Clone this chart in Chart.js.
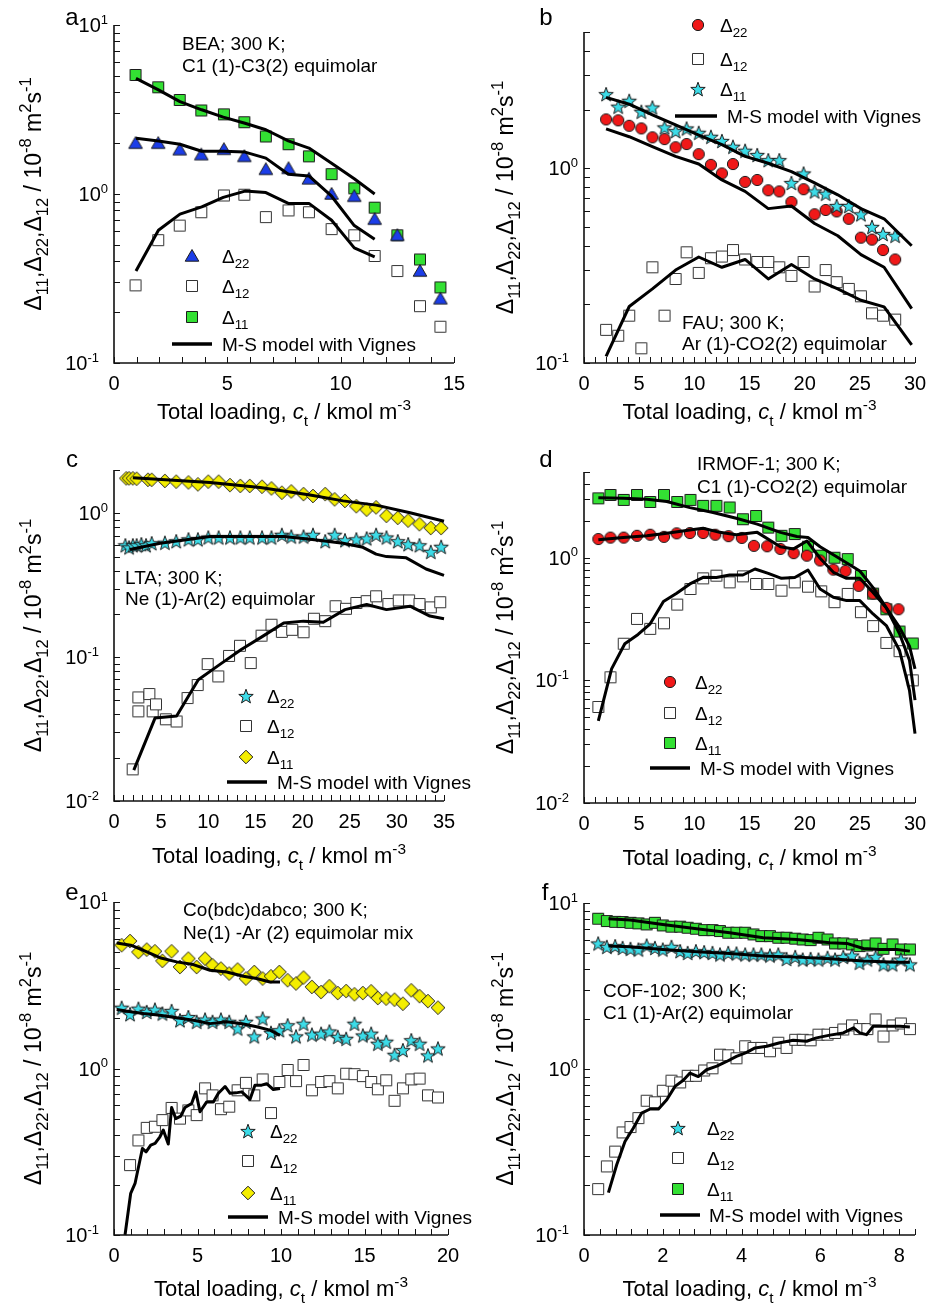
<!DOCTYPE html>
<html>
<head>
<meta charset="utf-8">
<script src="https://cdn.jsdelivr.net/npm/chart.js@4.4.1/dist/chart.umd.min.js"></script>
<style>
  html, body { margin: 0; padding: 0; background: #fff; overflow: hidden; }
  #page { position: relative; width: 928px; height: 1303px; overflow: hidden; }
  canvas { position: absolute; }
</style>
</head>
<body>
<div id="page"></div>
<script>
// ---------- a: BEA, C1-C3 ----------
const aX = [0.95, 1.95, 2.9, 3.85, 4.85, 5.75, 6.7, 7.7, 8.6, 9.6, 10.6, 11.5, 12.5, 13.5, 14.4];
const aD11 = [5.06, 4.28, 3.60, 3.12, 2.96, 2.66, 2.19, 1.97, 1.67, 1.31, 1.08, 0.83, 0.57, 0.41, 0.28];
const aD22 = [2.0, 2.0, 1.83, 1.71, 1.84, 1.67, 1.40, 1.42, 1.23, 1.0, 0.97, 0.71, 0.57, 0.35, 0.24];
const aD12 = [0.288, 0.533, 0.65, 0.78, 0.98, 0.99, 0.73, 0.80, 0.78, 0.62, 0.57, 0.43, 0.35, 0.217, 0.164];
const aLineX = [0.97, 1.96, 2.91, 3.87, 4.82, 5.78, 6.7, 7.69, 8.6, 9.6, 10.6, 11.5];
const aM11 = [4.83, 4.13, 3.52, 3.15, 2.85, 2.62, 2.40, 2.06, 1.87, 1.52, 1.23, 1.0];
const aM22 = [2.14, 2.06, 1.97, 1.79, 1.79, 1.77, 1.63, 1.31, 1.28, 0.97, 0.65, 0.54];
const aM12 = [0.35, 0.61, 0.76, 0.84, 0.955, 1.04, 1.02, 0.88, 0.88, 0.70, 0.48, 0.425];
const aXTicks = [0, 5, 10, 15];
const aYTicks = [0.1, 1, 10];

// ---------- b: FAU, Ar-CO2 ----------
const bX = [2.0, 3.1, 4.1, 5.2, 6.2, 7.3, 8.3, 9.3, 10.4, 11.5, 12.5, 13.5, 14.6, 15.7, 16.7, 17.7, 18.8, 19.9, 20.9, 21.9, 22.9, 24.0, 25.1, 26.1, 27.1, 28.2];
const bD22 = [1.78, 1.76, 1.65, 1.60, 1.44, 1.41, 1.28, 1.33, 1.18, 1.04, 0.94, 1.05, 0.85, 0.87, 0.77, 0.76, 0.67, 0.78, 0.58, 0.61, 0.60, 0.55, 0.44, 0.43, 0.38, 0.34];
const bD11 = [2.40, 2.07, 2.22, 1.95, 2.05, 1.62, 1.55, 1.60, 1.52, 1.45, 1.38, 1.29, 1.23, 1.17, 1.10, 1.10, 0.84, 0.94, 0.76, 0.74, 0.64, 0.64, 0.58, 0.50, 0.46, 0.45];
const bD12 = [0.148, 0.138, 0.175, 0.119, 0.31, 0.175, 0.27, 0.37, 0.29, 0.345, 0.352, 0.38, 0.34, 0.33, 0.33, 0.31, 0.28, 0.33, 0.247, 0.30, 0.26, 0.24, 0.22, 0.18, 0.175, 0.167];
const bLineX = [2.0, 4.1, 6.2, 8.3, 10.4, 12.5, 14.6, 16.7, 18.8, 20.9, 23.0, 25.1, 27.2, 29.7];
const bM11 = [2.31, 2.13, 1.88, 1.67, 1.48, 1.32, 1.15, 1.06, 0.96, 0.84, 0.73, 0.62, 0.55, 0.40];
const bM22 = [1.59, 1.45, 1.29, 1.15, 1.05, 0.87, 0.76, 0.62, 0.64, 0.52, 0.45, 0.36, 0.31, 0.19];
const bM12 = [0.108, 0.195, 0.24, 0.30, 0.35, 0.31, 0.34, 0.27, 0.32, 0.27, 0.24, 0.21, 0.194, 0.124];
const bXTicks = [0, 5, 10, 15, 20, 25, 30];
const bYTicks = [0.1, 1];

// ---------- c: LTA, Ne-Ar ----------
const cX11 = [1.3, 1.6, 2.0, 2.4, 3.6, 4.0, 5.4, 6.6, 7.9, 8.9, 10.0, 11.1, 12.3, 13.4, 14.4, 15.7, 16.7, 17.8, 18.8, 20.1, 21.1, 22.4, 23.4, 24.5, 25.7, 26.8, 27.8, 28.9, 30.1, 31.2, 32.4, 33.6, 34.7];
const cD11 = [1.75, 1.75, 1.75, 1.74, 1.71, 1.71, 1.68, 1.66, 1.64, 1.59, 1.66, 1.66, 1.57, 1.55, 1.55, 1.53, 1.49, 1.39, 1.42, 1.36, 1.32, 1.36, 1.25, 1.22, 1.12, 1.06, 1.10, 0.96, 0.93, 0.89, 0.84, 0.79, 0.79];
const cX22 = [1.2, 1.6, 2.0, 2.4, 2.9, 3.4, 4.0, 5.4, 6.6, 7.9, 8.9, 10.0, 11.1, 12.3, 13.4, 14.4, 15.7, 16.7, 17.8, 18.8, 20.1, 21.1, 22.4, 23.4, 24.5, 25.7, 26.8, 27.8, 28.9, 30.1, 31.2, 32.4, 33.6, 34.7];
const cD22 = [0.60, 0.58, 0.60, 0.60, 0.61, 0.60, 0.62, 0.625, 0.64, 0.66, 0.66, 0.68, 0.68, 0.68, 0.68, 0.68, 0.68, 0.68, 0.71, 0.69, 0.69, 0.71, 0.64, 0.71, 0.65, 0.66, 0.67, 0.71, 0.68, 0.64, 0.61, 0.60, 0.54, 0.586];
const cX12 = [1.98, 2.58, 2.58, 3.75, 4.1, 4.45, 5.5, 6.64, 7.8, 8.87, 9.93, 11.06, 12.2, 13.36, 14.5, 15.65, 16.7, 17.8, 18.9, 20.1, 21.2, 22.4, 23.5, 24.6, 25.7, 26.8, 27.8, 29.1, 30.2, 31.3, 32.4, 33.6, 34.6];
const cD12 = [0.0166, 0.0525, 0.042, 0.0554, 0.042, 0.047, 0.037, 0.0357, 0.052, 0.064, 0.0895, 0.0735, 0.102, 0.120, 0.091, 0.141, 0.168, 0.150, 0.155, 0.149, 0.185, 0.178, 0.226, 0.217, 0.238, 0.245, 0.265, 0.234, 0.248, 0.248, 0.234, 0.222, 0.241];
const cLine11X = [2.0, 10.2, 15.5, 20.8, 24.3, 27.8, 31.4, 35.0];
const cM11 = [1.77, 1.64, 1.51, 1.34, 1.22, 1.14, 1.01, 0.88];
const cLine22X = [1.7, 4.9, 10.2, 15.5, 18.0, 20.8, 24.3, 26.4, 27.8, 28.9, 31.0, 33.1, 35.0];
const cM22 = [0.56, 0.62, 0.69, 0.69, 0.69, 0.66, 0.62, 0.58, 0.52, 0.50, 0.49, 0.41, 0.37];
const cLine12X = [2.1, 4.35, 6.64, 8.94, 11.2, 13.5, 15.8, 18.0, 20.1, 22.2, 24.5, 26.8, 28.9, 31.4, 33.5, 35.0];
const cM12 = [0.0164, 0.0377, 0.039, 0.0697, 0.0887, 0.113, 0.140, 0.173, 0.178, 0.175, 0.214, 0.232, 0.214, 0.226, 0.193, 0.185];
const cXTicks = [0, 5, 10, 15, 20, 25, 30, 35];
const cYTicks = [0.01, 0.1, 1];

// ---------- d: IRMOF-1, C1-CO2 ----------
const dX = [1.3, 2.4, 3.6, 4.8, 6.0, 7.25, 8.45, 9.65, 10.8, 12.0, 13.2, 14.4, 15.6, 16.7, 17.9, 19.1, 20.3, 21.5, 22.7, 23.9, 25.1, 26.2, 27.4, 28.6, 29.8];
const dD11 = [3.05, 3.25, 2.96, 3.25, 2.85, 3.25, 2.85, 2.96, 2.65, 2.65, 2.57, 2.06, 2.19, 1.76, 1.51, 1.56, 1.23, 1.04, 1.0, 0.975, 0.71, 0.51, 0.38, 0.25, 0.20];
const dD12 = [0.0607, 0.106, 0.199, 0.317, 0.263, 0.292, 0.415, 0.556, 0.679, 0.714, 0.63, 0.705, 0.611, 0.611, 0.539, 0.63, 0.581, 0.532, 0.434, 0.507, 0.36, 0.277, 0.202, 0.173, 0.10];
const dX22 = [1.3, 2.4, 3.6, 4.8, 6.0, 7.25, 8.4, 9.6, 10.8, 11.9, 13.1, 14.3, 15.4, 16.6, 17.8, 19.0, 20.2, 21.4, 22.6, 23.7, 24.9, 26.2, 27.4, 28.5];
const dD22 = [1.42, 1.46, 1.46, 1.51, 1.54, 1.48, 1.58, 1.59, 1.59, 1.54, 1.50, 1.45, 1.25, 1.24, 1.18, 1.09, 1.04, 0.95, 0.80, 0.78, 0.59, 0.51, 0.39, 0.38];
const dLine11X = [1.3, 3.56, 5.7, 7.5, 9.6, 11.7, 13.8, 15.7, 17.8, 19.3, 20.3, 21.4, 22.9, 25.0, 26.2, 27.4, 28.6, 29.5, 30.0];
const dM11 = [3.09, 3.06, 3.0, 2.87, 2.56, 2.34, 2.10, 1.88, 1.61, 1.49, 1.46, 1.23, 1.02, 0.78, 0.57, 0.39, 0.27, 0.19, 0.124];
const dLine22X = [1.3, 3.56, 5.7, 7.5, 9.6, 10.8, 12.3, 13.8, 15.7, 17.8, 19.0, 20.2, 21.4, 22.6, 23.8, 25.0, 26.2, 27.4, 28.6, 29.5, 30.0];
const dM22 = [1.40, 1.46, 1.51, 1.58, 1.68, 1.74, 1.61, 1.54, 1.61, 1.23, 1.18, 1.37, 0.99, 0.76, 0.68, 0.68, 0.52, 0.39, 0.24, 0.146, 0.069];
const dLine12X = [1.3, 2.5, 3.7, 4.9, 6.0, 7.2, 8.4, 9.6, 10.8, 12.0, 13.2, 14.4, 15.5, 16.7, 17.9, 19.1, 20.3, 21.4, 22.6, 23.8, 25.0, 26.2, 27.4, 28.6, 29.5, 30.0];
const dM12 = [0.0467, 0.124, 0.199, 0.237, 0.289, 0.439, 0.513, 0.611, 0.692, 0.69, 0.723, 0.723, 0.809, 0.746, 0.679, 0.69, 0.794, 0.556, 0.476, 0.447, 0.447, 0.348, 0.28, 0.175, 0.083, 0.0368];
const dXTicks = [0, 5, 10, 15, 20, 25, 30];
const dYTicks = [0.01, 0.1, 1];

// ---------- e: Co(bdc)dabco, Ne-Ar ----------
const eX = [0.46, 0.96, 1.46, 1.96, 2.45, 2.9, 3.45, 3.95, 4.45, 4.95, 5.45, 5.9, 6.4, 6.9, 7.4, 7.9, 8.4, 8.9, 9.4, 9.9, 10.4, 10.9, 11.35, 11.85, 12.4, 12.9, 13.4, 13.9, 14.4, 14.9, 15.4, 15.8, 16.3, 16.8, 17.3, 17.8, 18.3, 18.8, 19.4];
const eD11 = [5.5, 5.83, 5.0, 5.18, 5.06, 4.43, 5.06, 4.07, 4.57, 4.07, 4.57, 4.17, 3.98, 3.72, 3.93, 3.47, 3.80, 3.47, 3.58, 3.80, 3.39, 3.24, 3.52, 3.09, 2.88, 3.12, 2.84, 2.92, 2.79, 2.84, 2.91, 2.65, 2.63, 2.59, 2.45, 2.95, 2.72, 2.54, 2.32];
const eD22 = [2.32, 2.12, 2.29, 2.19, 2.26, 2.14, 2.22, 1.95, 2.04, 1.91, 1.97, 1.91, 1.97, 1.91, 1.74, 1.91, 1.56, 2.0, 1.64, 1.70, 1.82, 1.56, 1.86, 1.60, 1.62, 1.67, 1.55, 1.51, 1.86, 1.58, 1.62, 1.41, 1.45, 1.21, 1.29, 1.48, 1.41, 1.20, 1.32];
const eX12 = [0.96, 1.46, 1.96, 2.45, 2.9, 3.45, 3.95, 4.45, 4.95, 5.45, 5.9, 6.4, 6.9, 7.4, 7.9, 8.4, 8.9, 9.4, 9.9, 10.4, 10.9, 11.35, 11.85, 12.4, 12.9, 13.4, 13.9, 14.4, 14.9, 15.4, 15.8, 16.3, 16.8, 17.3, 17.8, 18.3, 18.8, 19.4];
const eD12 = [0.263, 0.37, 0.44, 0.447, 0.49, 0.58, 0.50, 0.56, 0.525, 0.76, 0.69, 0.57, 0.59, 0.74, 0.82, 0.69, 0.86, 0.54, 0.83, 0.98, 0.84, 1.05, 0.74, 0.83, 0.84, 0.76, 0.93, 0.925, 0.90, 0.83, 0.75, 0.85, 0.64, 0.76, 0.86, 0.87, 0.69, 0.67];
const eLineX = [0.16, 1.0, 1.76, 2.75, 3.75, 4.75, 5.75, 6.75, 7.75, 8.54, 9.34, 9.94];
const eM11 = [5.68, 5.5, 5.13, 4.63, 4.37, 4.21, 3.89, 3.80, 3.58, 3.47, 3.31, 3.31];
const eM22 = [2.26, 2.19, 2.14, 2.09, 2.02, 1.95, 1.86, 1.91, 1.85, 1.78, 1.70, 1.58];
const eLine12X = [0.66, 1.0, 1.26, 1.7, 1.92, 2.2, 2.46, 2.75, 2.95, 3.25, 3.45, 3.7, 4.0, 4.25, 4.65, 4.9, 5.15, 5.55, 5.95, 6.25, 6.65, 6.95, 7.3, 7.65, 8.14, 8.44, 8.84, 9.14, 9.54, 9.94];
const eM12 = [0.10, 0.178, 0.204, 0.331, 0.316, 0.347, 0.355, 0.389, 0.427, 0.352, 0.583, 0.50, 0.518, 0.583, 0.617, 0.724, 0.55, 0.63, 0.63, 0.71, 0.78, 0.71, 0.714, 0.724, 0.652, 0.794, 0.794, 0.81, 0.748, 0.758];
const eXTicks = [0, 5, 10, 15, 20];
const eYTicks = [0.1, 1, 10];

// ---------- f: COF-102, C1-Ar ----------
const fX = [0.36, 0.58, 0.79, 0.98, 1.18, 1.38, 1.59, 1.8, 2.0, 2.22, 2.44, 2.63, 2.84, 3.05, 3.26, 3.45, 3.66, 3.87, 4.09, 4.3, 4.5, 4.72, 4.93, 5.14, 5.36, 5.55, 5.75, 5.95, 6.18, 6.37, 6.58, 6.8, 6.99, 7.19, 7.4, 7.6, 7.83, 8.04, 8.27];
const fD11 = [8.04, 7.79, 7.7, 7.68, 7.6, 7.54, 7.43, 7.6, 7.33, 7.2, 7.2, 7.1, 7.0, 6.87, 6.87, 6.78, 6.62, 6.62, 6.62, 6.47, 6.32, 6.32, 6.18, 6.18, 6.1, 6.03, 5.98, 6.18, 6.03, 5.71, 5.71, 5.63, 5.5, 5.55, 5.71, 5.3, 5.63, 5.25, 5.25];
const fD22 = [5.71, 5.45, 5.5, 5.37, 5.3, 5.25, 5.55, 5.37, 5.25, 5.45, 5.13, 5.01, 5.13, 5.06, 5.01, 4.9, 5.01, 4.97, 4.9, 4.9, 4.9, 4.83, 4.9, 4.61, 4.74, 4.57, 4.61, 4.57, 4.68, 4.57, 4.74, 4.83, 4.37, 4.57, 4.74, 4.27, 4.27, 4.57, 4.27];
const fD12 = [0.189, 0.259, 0.318, 0.415, 0.447, 0.506, 0.644, 0.63, 0.74, 0.851, 0.83, 0.91, 0.91, 0.98, 1.01, 1.22, 1.21, 1.16, 1.37, 1.34, 1.34, 1.28, 1.44, 1.34, 1.50, 1.50, 1.49, 1.61, 1.61, 1.65, 1.73, 1.83, 1.74, 1.74, 1.99, 1.57, 1.83, 1.88, 1.74];
const fLine11X = [0.62, 1.17, 2.0, 2.86, 3.7, 4.55, 5.4, 5.8, 6.24, 6.67, 7.09, 7.5, 7.94, 8.27];
const fM11 = [8.04, 7.9, 7.43, 7.0, 6.62, 6.18, 6.03, 5.9, 5.76, 5.71, 5.32, 5.25, 5.25, 5.13];
const fLine22X = [0.62, 1.17, 2.0, 2.86, 3.7, 4.55, 5.4, 6.24, 7.09, 7.94, 8.27];
const fM22 = [5.5, 5.45, 5.25, 5.08, 4.97, 4.79, 4.72, 4.61, 4.47, 4.4, 4.4];
const fLine12X = [0.62, 0.83, 1.04, 1.25, 1.46, 1.68, 1.89, 2.1, 2.31, 2.52, 2.69, 2.9, 3.11, 3.37, 3.62, 3.87, 4.13, 4.34, 4.64, 4.97, 5.31, 5.65, 5.9, 6.24, 6.58, 6.84, 7.0, 7.17, 7.34, 7.68, 8.02, 8.27];
const fM12 = [0.18, 0.265, 0.366, 0.44, 0.542, 0.574, 0.574, 0.653, 0.786, 0.855, 0.946, 0.90, 0.99, 1.04, 1.11, 1.19, 1.26, 1.34, 1.37, 1.44, 1.49, 1.47, 1.54, 1.60, 1.65, 1.77, 1.65, 1.61, 1.81, 1.81, 1.81, 1.79];
const fXTicks = [0, 2, 4, 6, 8];
const fYTicks = [0.1, 1, 10];

const FONT = "'Liberation Sans', Arial, Helvetica, sans-serif";
Chart.defaults.font.family = FONT;
Chart.defaults.color = '#000';

// marker images, used both for the points and the legends
function markerCanvas(kind, fill, stroke) {
    const c = document.createElement('canvas');
    c.width = 18; c.height = 18;
    const g = c.getContext('2d');
    g.translate(9, 9);
    g.fillStyle = fill;
    g.strokeStyle = stroke;
    g.lineWidth = 1;
    g.beginPath();
    if (kind === 'square') {
        g.rect(-5.5, -5.5, 11, 11);
    } else if (kind === 'circle') {
        g.arc(0, 0, 5.6, 0, Math.PI * 2);
    } else if (kind === 'triangle') {
        g.moveTo(0, -6.5); g.lineTo(6.8, 5.2); g.lineTo(-6.8, 5.2); g.closePath();
    } else if (kind === 'diamond') {
        g.moveTo(0, -6.8); g.lineTo(6.8, 0); g.lineTo(0, 6.8); g.lineTo(-6.8, 0); g.closePath();
    } else if (kind === 'star') {
        for (let k = 0; k < 10; k++) {
            const r = k % 2 ? 3.1 : 7.6;
            const a = -Math.PI / 2 + k * Math.PI / 5;
            g.lineTo(r * Math.cos(a), r * Math.sin(a) + 0.8);
        }
        g.closePath();
    }
    g.fill();
    g.stroke();
    return c;
}

const MARK = {
    green: markerCanvas('square', '#33e033', '#1c1c1c'),
    open: markerCanvas('square', '#ffffff', '#333333'),
    tri: markerCanvas('triangle', '#1b3de8', '#1c1c1c'),
    red: markerCanvas('circle', '#f01818', '#1c1c1c'),
    star: markerCanvas('star', '#3cdce8', '#1c1c1c'),
    dia: markerCanvas('diamond', '#f4ee00', '#1c1c1c')
};

function pts(xs, ys, mark) {
    return {
        data: xs.map((x, i) => ({ x: x, y: ys[i] })),
        showLine: false,
        pointStyle: MARK[mark],
        pointRadius: 6,
        clip: 10
    };
}

function line(xs, ys) {
    return {
        data: xs.map((x, i) => ({ x: x, y: ys[i] })),
        showLine: true,
        borderColor: '#000',
        borderWidth: 3,
        borderJoinStyle: 'round',
        pointRadius: 0,
        tension: 0,
        clip: 4
    };
}

// text with sub / superscripts: parts = [[text, mode]], mode '', 'sub', 'sup', 'i', 'isub'
function drawRich(ctx, parts, x, y, size, align, rot, small) {
    const k = small || 0.7;
    ctx.save();
    ctx.translate(x, y);
    if (rot) ctx.rotate(rot);
    const fontFor = m => {
        const isSmall = m === 'sub' || m === 'sup' || m === 'isub';
        const italic = m === 'i' || m === 'isub';
        return (italic ? 'italic ' : '') + (isSmall ? size * k : size) + 'px ' + FONT;
    };
    let w = 0;
    parts.forEach(([t, m]) => { ctx.font = fontFor(m); w += ctx.measureText(t).width; });
    let cx = align === 'center' ? -w / 2 : align === 'right' ? -w : 0;
    ctx.textAlign = 'left';
    ctx.textBaseline = 'alphabetic';
    ctx.fillStyle = '#000';
    parts.forEach(([t, m]) => {
        ctx.font = fontFor(m);
        const dy = (m === 'sub' || m === 'isub') ? size * 0.3 : m === 'sup' ? -size * 0.42 : 0;
        ctx.fillText(t, cx, dy);
        cx += ctx.measureText(t).width;
    });
    ctx.restore();
}

const Y_TITLE = [['\u0394'], ['11', 'sub'], [',\u0394'], ['22', 'sub'], [',\u0394'], ['12', 'sub'], [' / 10'], ['-8', 'sup'], [' m'], ['2', 'sup'], ['s'], ['-1', 'sup']];
const X_TITLE = [['Total loading, '], ['c', 'i'], ['t', 'sub'], [' / kmol m'], ['-3', 'sup']];

// axes lines, inward ticks, decade labels, titles, legend and notes
function decor(p) {
    return {
        id: 'decor',
        afterDraw(chart) {
            const ctx = chart.ctx;
            const { left, right, top, bottom } = chart.chartArea;
            const xs = chart.scales.x, ys = chart.scales.y;
            ctx.save();
            ctx.strokeStyle = '#111';
            ctx.lineWidth = 1;
            ctx.beginPath();
            xs.ticks.forEach(t => {
                const px = Math.round(xs.getPixelForValue(t.value)) + 0.5;
                ctx.moveTo(px, bottom); ctx.lineTo(px, bottom - 6);
            });
            ys.ticks.forEach(t => {
                const py = Math.round(ys.getPixelForValue(t.value)) + 0.5;
                ctx.moveTo(left, py); ctx.lineTo(left + 6, py);
            });
            ctx.stroke();
            ctx.lineWidth = 1.6;
            ctx.beginPath();
            ctx.moveTo(left, top); ctx.lineTo(left, bottom); ctx.lineTo(right, bottom);
            ctx.stroke();

            // decade labels 10^n on the y axis
            p.yMajor.forEach(v => {
                const py = ys.getPixelForValue(v);
                const ex = Math.round(Math.log10(v));
                drawRich(ctx, [['10'], [String(ex), 'sup']], left - (ex < 0 ? 15 : 6), py + 7, 20, 'right', 0, 0.65);
            });

            ctx.translate(-p.cx, -p.cy);
            // panel letter
            ctx.fillStyle = '#000';
            ctx.font = '24px ' + FONT;
            ctx.textAlign = 'center';
            ctx.textBaseline = 'middle';
            ctx.fillText(p.letter, p.letterPos[0], p.letterPos[1]);
            // axis titles
            const [L, T, R, B] = p.area;
            drawRich(ctx, Y_TITLE, p.yTitleX + 8, (T + B) / 2, 23, 'center', -Math.PI / 2, 0.72);
            drawRich(ctx, X_TITLE, (L + R) / 2, B + p.xTitleDy + 8, 22, 'center');
            // legend
            const lg = p.legend;
            lg.rows.forEach(([k, sub, y]) => {
                ctx.drawImage(MARK[k], lg.mx - 9, y - 9);
                drawRich(ctx, [['\u0394'], [sub, 'sub']], lg.tx, y + 6.5, 19, 'left');
            });
            const [x1, x2, ly, ltx] = lg.line;
            ctx.strokeStyle = '#000';
            ctx.lineWidth = 3.5;
            ctx.beginPath(); ctx.moveTo(x1, ly); ctx.lineTo(x2, ly); ctx.stroke();
            drawRich(ctx, [['M-S model with Vignes']], ltx, ly + 6.5, 19, 'left');
            // material note
            p.note.text.forEach((t, i) => drawRich(ctx, [[t]], p.note.x, p.note.y[i] + 6.5, 19, 'left'));
            ctx.restore();
        }
    };
}

const PANELS = [
    {
        letter: 'a', letterPos: [72, 18], cx: 0, cy: 0, w: 490, h: 435, area: [114, 25, 454, 363], yTitleX: 33, xTitleDy: 48,
        xMax: 15, xStep: 1, xMajor: aXTicks, yMin: 0.1, yMax: 10, yMajor: aYTicks,
        sets: [line(aLineX, aM11), line(aLineX, aM22), line(aLineX, aM12), pts(aX, aD22, 'tri'), pts(aX, aD12, 'open'), pts(aX, aD11, 'green')],
        legend: { mx: 192, tx: 222, rows: [['tri', '22', 256], ['open', '12', 286], ['green', '11', 317]], line: [172, 212, 344, 222] },
        note: { x: 182, y: [43, 65], text: ['BEA; 300 K;', 'C1 (1)-C3(2) equimolar'] }
    },
    {
        letter: 'b', letterPos: [546, 18], cx: 490, cy: 0, w: 460, h: 435, area: [584, 32, 915, 363], yTitleX: 505, xTitleDy: 48,
        xMax: 30, xStep: 1, xMajor: bXTicks, yMin: 0.1, yMax: 5, yMajor: bYTicks,
        sets: [line(bLineX, bM11), line(bLineX, bM22), line(bLineX, bM12), pts(bX, bD11, 'star'), pts(bX, bD22, 'red'), pts(bX, bD12, 'open')],
        legend: { mx: 698, tx: 720, rows: [['red', '22', 25], ['open', '12', 59], ['star', '11', 89]], line: [675, 717, 116, 727] },
        note: { x: 682, y: [322, 343], text: ['FAU; 300 K;', 'Ar (1)-CO2(2) equimolar'] }
    },
    {
        letter: 'c', letterPos: [72, 460], cx: 0, cy: 435, w: 490, h: 435, area: [114, 470, 444, 801], yTitleX: 33, xTitleDy: 54,
        xMax: 35, xStep: 1, xMajor: cXTicks, yMin: 0.01, yMax: 2, yMajor: cYTicks,
        sets: [line(cLine11X, cM11), line(cLine22X, cM22), line(cLine12X, cM12), pts(cX22, cD22, 'star'), pts(cX11, cD11, 'dia'), pts(cX12, cD12, 'open')],
        legend: { mx: 246, tx: 267, rows: [['star', '22', 696], ['open', '12', 726], ['dia', '11', 757]], line: [227, 267, 782, 277] },
        note: { x: 125, y: [577, 598], text: ['LTA; 300 K;', 'Ne (1)-Ar(2) equimolar'] }
    },
    {
        letter: 'd', letterPos: [546, 460], cx: 490, cy: 435, w: 460, h: 435, area: [584, 472, 915, 803], yTitleX: 505, xTitleDy: 54,
        xMax: 30, xStep: 1, xMajor: dXTicks, yMin: 0.01, yMax: 5, yMajor: dYTicks,
        sets: [line(dLine11X, dM11), line(dLine22X, dM22), line(dLine12X, dM12), pts(dX22, dD22, 'red'), pts(dX, dD11, 'green'), pts(dX, dD12, 'open')],
        legend: { mx: 670, tx: 695, rows: [['red', '22', 682], ['open', '12', 713], ['green', '11', 743]], line: [650, 690, 768, 700] },
        note: { x: 697, y: [463, 486], text: ['IRMOF-1; 300 K;', 'C1 (1)-CO2(2) equimolar'] }
    },
    {
        letter: 'e', letterPos: [72, 893], cx: 0, cy: 870, w: 490, h: 433, area: [114, 902, 448, 1235], yTitleX: 33, xTitleDy: 53,
        xMax: 20, xStep: 1, xMajor: eXTicks, yMin: 0.1, yMax: 10, yMajor: eYTicks,
        sets: [line(eLineX, eM11), line(eLineX, eM22), line(eLine12X, eM12), pts(eX, eD22, 'star'), pts(eX, eD11, 'dia'), pts(eX12, eD12, 'open')],
        legend: { mx: 248, tx: 270, rows: [['star', '22', 1131], ['open', '12', 1161], ['dia', '11', 1193]], line: [228, 268, 1217, 278] },
        note: { x: 183, y: [909, 932], text: ['Co(bdc)dabco; 300 K;', 'Ne(1) -Ar (2) equimolar mix'] }
    },
    {
        letter: 'f', letterPos: [545, 893], cx: 490, cy: 870, w: 460, h: 433, area: [584, 903, 915, 1235], yTitleX: 505, xTitleDy: 53,
        xMax: 8.4, xStep: 0.4, xMajor: fXTicks, yMin: 0.1, yMax: 10, yMajor: fYTicks,
        sets: [line(fLine11X, fM11), line(fLine22X, fM22), line(fLine12X, fM12), pts(fX, fD22, 'star'), pts(fX, fD11, 'green'), pts(fX, fD12, 'open')],
        legend: { mx: 678, tx: 707, rows: [['star', '22', 1128], ['open', '12', 1158], ['green', '11', 1189]], line: [660, 700, 1215, 709] },
        note: { x: 603, y: [990, 1012], text: ['COF-102; 300 K;', 'C1 (1)-Ar(2) equimolar'] }
    }
];

function buildChart(p) {
    const cv = document.createElement('canvas');
    cv.width = p.w;
    cv.height = p.h;
    cv.style.left = p.cx + 'px';
    cv.style.top = p.cy + 'px';
    document.getElementById('page').appendChild(cv);

    const [L, T, R, B] = p.area;
    const W = 62, H = 40;

    const xTickVals = [];
    for (let v = 0; v <= p.xMax + 1e-9; v += p.xStep) xTickVals.push(Math.round(v * 1000) / 1000);
    const yTickVals = [];
    for (let e = Math.floor(Math.log10(p.yMin)); e <= Math.ceil(Math.log10(p.yMax)); e++) {
        for (let k = 1; k <= 9; k++) {
            const v = Number((k * Math.pow(10, e)).toPrecision(6));
            if (v >= p.yMin * 0.999 && v <= p.yMax * 1.001) yTickVals.push(v);
        }
    }
    const isMajor = (list, v) => list.some(m => Math.abs(m - v) < 1e-6 * Math.max(1, m));

    new Chart(cv, {
        type: 'scatter',
        data: { datasets: p.sets },
        options: {
            responsive: false,
            animation: false,
            events: [],
            devicePixelRatio: 1,
            layout: { padding: { left: L - p.cx - W, top: T - p.cy, right: p.cx + p.w - R, bottom: p.cy + p.h - B - H } },
            plugins: { legend: { display: false }, tooltip: { enabled: false } },
            scales: {
                x: {
                    type: 'linear', min: 0, max: p.xMax,
                    grid: { display: false, drawTicks: false },
                    border: { display: false },
                    afterFit: s => { s.height = H; },
                    afterBuildTicks: s => { s.ticks = xTickVals.map(v => ({ value: v })); },
                    ticks: {
                        autoSkip: false, maxRotation: 0, minRotation: 0, padding: 9,
                        font: { size: 20 }, color: '#000',
                        callback: v => isMajor(p.xMajor, v) ? String(Math.round(v)) : ''
                    }
                },
                y: {
                    type: 'logarithmic', min: p.yMin, max: p.yMax,
                    grid: { display: false, drawTicks: false },
                    border: { display: false },
                    afterFit: s => { s.width = W; },
                    afterBuildTicks: s => { s.ticks = yTickVals.map(v => ({ value: v })); },
                    // decade labels are drawn with real superscripts by the decor plugin
                    ticks: { autoSkip: false, padding: 9, font: { size: 20 }, callback: () => '' }
                }
            }
        },
        plugins: [decor(p)]
    });
}

PANELS.forEach(buildChart);
</script>
</body>
</html>
